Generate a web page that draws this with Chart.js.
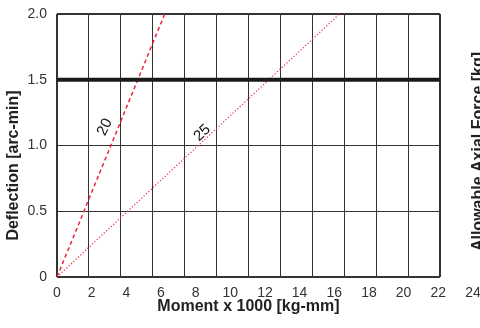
<!DOCTYPE html>
<html>
<head>
<meta charset="utf-8">
<script src="https://cdn.jsdelivr.net/npm/chart.js@4"></script>
<style>
  html, body { margin: 0; padding: 0; background: #fff; overflow: hidden; }
  #wrap { width: 480px; height: 328px; position: relative; }
</style>
</head>
<body>
<div id="wrap"><canvas id="c" width="480" height="328"></canvas></div>
<script>
// ---- data ----
const xTickLabels = [0, 2, 4, 6, 8, 10, 12, 14, 16, 18, 20, 22, 24];
const yTickValues = [0, 0.5, 1.0, 1.5, 2.0];
const curveNames = ['20', '25'];
const moment20 = [0, 6.75];
const deflection20 = [0, 2.0];
const moment25 = [0, 17.7];
const deflection25 = [0, 2.0];
const limitMoment = [0, 24];
const limitDeflection = [1.5, 1.5];
const xTitle = 'Moment x 1000 [kg-mm]';
const yTitle = 'Deflection [arc-min]';
const y2Title = 'Allowable Axial Force [kg]';

const toPts = (xs, ys) => xs.map((x, i) => ({ x: x, y: ys[i] }));

const tickFont = "'Liberation Sans', Arial, sans-serif";
const titleFont = "'Liberation Sans', Arial, sans-serif";

const zeroPad = s => { s.paddingLeft = 0; s.paddingRight = 0; s.paddingTop = 0; s.paddingBottom = 0; };

const textPlugin = {
  id: 'textPlugin',
  afterDraw(chart) {
    const ctx = chart.ctx;
    const xs = chart.scales.x, ys = chart.scales.y;
    const ca = chart.chartArea;
    ctx.save();
    const curveLabels = [
      { text: curveNames[0], x: 3.0, y: 1.14, angle: -65 },
      { text: curveNames[1], x: 9.1, y: 1.095, angle: -43 }
    ];
    ctx.fillStyle = '#111';
    ctx.font = "15px " + titleFont;
    ctx.textAlign = 'center';
    ctx.textBaseline = 'middle';
    curveLabels.forEach(l => {
      ctx.save();
      ctx.translate(xs.getPixelForValue(l.x), ys.getPixelForValue(l.y));
      ctx.rotate(l.angle * Math.PI / 180);
      ctx.fillText(l.text, 0, 0);
      ctx.restore();
    });
    ctx.font = "bold 16px " + titleFont;
    ctx.fillStyle = '#222';
    ctx.save();
    ctx.translate(14, (ca.top + ca.bottom) / 2 + 20);
    ctx.rotate(-Math.PI / 2);
    ctx.fillText(yTitle, 0, 0);
    ctx.restore();
    ctx.save();
    ctx.translate(479, (ca.top + ca.bottom) / 2 + 6);
    ctx.rotate(-Math.PI / 2);
    ctx.fillText(y2Title, 0, 0);
    ctx.restore();
    ctx.restore();
  }
};

new Chart(document.getElementById('c'), {
  type: 'line',
  data: {
    datasets: [
      {
        label: 'limit',
        data: toPts(limitMoment, limitDeflection),
        borderColor: '#1a1a1a',
        borderWidth: 4,
        pointRadius: 0,
        xAxisID: 'x', yAxisID: 'y'
      },
      {
        label: curveNames[0],
        data: toPts(moment20, deflection20),
        borderColor: '#e8283c',
        borderWidth: 1.5,
        borderDash: [4, 3],
        pointRadius: 0,
        xAxisID: 'x', yAxisID: 'y'
      },
      {
        label: curveNames[1],
        data: toPts(moment25, deflection25),
        borderColor: '#ee3a50',
        borderWidth: 1.3,
        borderDash: [1.2, 2],
        pointRadius: 0,
        xAxisID: 'x', yAxisID: 'y'
      }
    ]
  },
  options: {
    responsive: false,
    animation: false,
    layout: { padding: { top: 14, right: 40, left: 0, bottom: 0 } },
    plugins: { legend: { display: false }, tooltip: { enabled: false } },
    scales: {
      x: {
        type: 'linear',
        position: 'bottom',
        min: 0, max: 24,
        bounds: 'data',
        ticks: { display: false, stepSize: 2 },
        grid: {
          color: '#333',
          drawTicks: false,
          lineWidth: c => (c.tick && (c.tick.value === 0 || c.tick.value === 24)) ? 2 : 1
        },
        border: { display: false },
        afterFit: s => { s.height = 0; zeroPad(s); }
      },
      xl: {
        type: 'linear',
        position: 'bottom',
        min: 0, max: 22.1,
        bounds: 'data',
        afterBuildTicks: s => { s.ticks = xTickLabels.map(v => ({ value: v })); },
        ticks: {
          autoSkip: false,
          maxRotation: 0,
          padding: 8,
          color: '#333',
          font: { family: tickFont, size: 14 },
          callback: v => String(v)
        },
        grid: { display: false, drawTicks: false },
        border: { display: false },
        title: {
          display: true,
          text: xTitle,
          color: '#222',
          font: { family: titleFont, size: 16, weight: 'bold' },
          padding: { top: 0, bottom: 12 }
        },
        afterFit: s => { s.height = 51; zeroPad(s); }
      },
      y: {
        type: 'linear',
        position: 'left',
        min: 0, max: 2,
        bounds: 'data',
        afterBuildTicks: s => { s.ticks = yTickValues.map(v => ({ value: v })); },
        ticks: {
          padding: 10,
          color: '#333',
          font: { family: tickFont, size: 14 },
          callback: v => (v === 0 ? '0' : Number(v).toFixed(1))
        },
        grid: {
          color: '#333',
          drawTicks: false,
          lineWidth: c => (c.tick && (c.tick.value === 0 || c.tick.value === 2)) ? 2 : 1
        },
        border: { display: false },
        afterFit: s => { s.width = 57; zeroPad(s); }
      }
    }
  },
  plugins: [textPlugin]
});
</script>
</body>
</html>
